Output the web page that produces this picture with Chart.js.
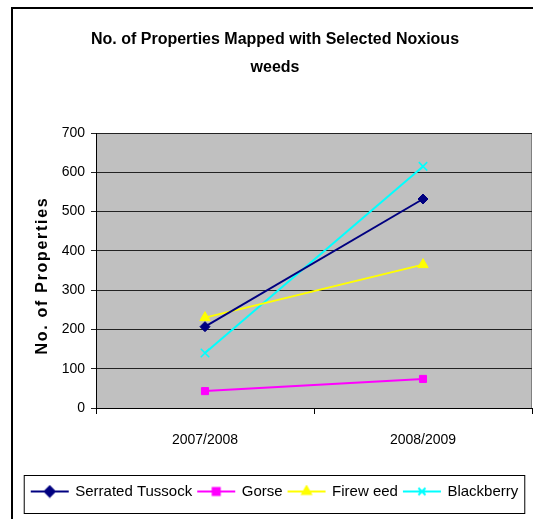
<!DOCTYPE html>
<html>
<head>
<meta charset="utf-8">
<title>No. of Properties Mapped with Selected Noxious weeds</title>
<script src="https://cdn.jsdelivr.net/npm/chart.js@4/dist/chart.umd.min.js"></script>
<style>
    html, body { margin: 0; padding: 0; background: #fff; }
    #wrap { width: 533px; height: 519px; }
</style>
</head>
<body>
<div id="wrap"><canvas id="weedsChart" width="533" height="519"></canvas></div>
<script>
// Data
const seasons = ['2007/2008', '2008/2009'];
const serratedTussock = [207, 532];
const gorse = [43, 74];
const fireweed = [230, 365];
const blackberry = [140, 615];
const yTicks = [0, 100, 200, 300, 400, 500, 600, 700];

const FONT = "'Liberation Sans', Arial, sans-serif";

// small line+marker images for the legend
function legendSymbol(color, style) {
    const c = document.createElement('canvas');
    c.width = 40;
    c.height = 14;
    const ctx = c.getContext('2d');
    ctx.strokeStyle = color;
    ctx.fillStyle = color;
    ctx.lineWidth = 2;
    ctx.beginPath();
    ctx.moveTo(1, 7);
    ctx.lineTo(39, 7);
    ctx.stroke();
    Chart.helpers.drawPoint(ctx, {
        pointStyle: style,
        radius: 5,
        rotation: 0,
        borderWidth: style === 'crossRot' ? 1.5 : 1
    }, 20, 7);
    if (style !== 'crossRot') ctx.fill();
    return c;
}

// grey plot background, outer frame, legend box and the spaced y title
const framePlugin = {
    id: 'frame',
    beforeDraw(chart) {
        const {ctx, chartArea} = chart;
        ctx.save();
        ctx.fillStyle = '#fff';
        ctx.fillRect(0, 0, chart.width, chart.height);
        ctx.fillStyle = '#c0c0c0';
        ctx.fillRect(chartArea.left, chartArea.top, chartArea.right - chartArea.left, chartArea.bottom - chartArea.top);
        ctx.strokeStyle = '#808080';
        ctx.lineWidth = 1;
        ctx.beginPath();
        ctx.moveTo(chartArea.left, chartArea.top + 0.5);
        ctx.lineTo(chartArea.right - 0.5, chartArea.top + 0.5);
        ctx.lineTo(chartArea.right - 0.5, chartArea.bottom);
        ctx.stroke();
        ctx.restore();
    },
    afterDraw(chart) {
        const ctx = chart.ctx;
        const area = chart.chartArea;
        ctx.save();
        // outer frame
        ctx.strokeStyle = '#000';
        ctx.lineWidth = 2;
        ctx.strokeRect(12, 8, 540, 530);
        // legend box
        const boxes = chart.legend.legendHitBoxes;
        if (boxes && boxes.length) {
            const first = boxes[0];
            const last = boxes[boxes.length - 1];
            const left = first.left - 8;
            const right = last.left + last.width + 6;
            const top = first.top - 9;
            const bottom = first.top + first.height + 14;
            ctx.lineWidth = 1;
            ctx.strokeRect(left + 0.5, top + 0.5, right - left, bottom - top);
        }
        // y axis title, letter spaced like the original
        ctx.translate(43, (area.top + area.bottom) / 2 + 5);
        ctx.rotate(-Math.PI / 2);
        ctx.font = 'bold 16px ' + FONT;
        ctx.letterSpacing = '1.7px';
        ctx.fillStyle = '#000';
        ctx.textAlign = 'center';
        ctx.textBaseline = 'middle';
        ctx.fillText('No. of Properties', 0, 0);
        ctx.restore();
    }
};

function makeDataset(label, data, color, style, radius) {
    return {
        label: label,
        data: data,
        borderColor: color,
        backgroundColor: color,
        borderWidth: 2,
        pointStyle: style,
        pointRadius: radius,
        pointHoverRadius: radius,
        pointBorderWidth: style === 'crossRot' ? 1.5 : 1,
        tension: 0
    };
}

const legendImages = [
    legendSymbol('#000080', 'rectRot'),
    legendSymbol('#ff00ff', 'rect'),
    legendSymbol('#ffff00', 'triangle'),
    legendSymbol('#00ffff', 'crossRot')
];

const ctx = document.getElementById('weedsChart');
new Chart(ctx, {
    type: 'line',
    data: {
        labels: seasons,
        datasets: [
            makeDataset('Serrated Tussock', serratedTussock, '#000080', 'rectRot', 5),
            makeDataset('Gorse', gorse, '#ff00ff', 'rect', 5),
            makeDataset('Firew eed', fireweed, '#ffff00', 'triangle', 6),
            makeDataset('Blackberry', blackberry, '#00ffff', 'crossRot', 6)
        ]
    },
    options: {
        responsive: false,
        animation: false,
        layout: {
            autoPadding: false,
            padding: {left: 17, right: 0, top: 10, bottom: 10}
        },
        plugins: {
            title: {
                display: true,
                text: ['No. of Properties Mapped with Selected Noxious', 'weeds'],
                color: '#000',
                font: {family: FONT, size: 16, weight: 'bold', lineHeight: 1.75},
                padding: {top: 16, bottom: 51}
            },
            legend: {
                position: 'bottom',
                labels: {
                    usePointStyle: true,
                    pointStyleWidth: 36,
                    padding: 6,
                    color: '#000',
                    font: {family: FONT, size: 15},
                    generateLabels(chart) {
                        const items = Chart.defaults.plugins.legend.labels.generateLabels(chart);
                        items.forEach((item, i) => { item.pointStyle = legendImages[i]; });
                        return items;
                    }
                }
            },
            tooltip: {enabled: false}
        },
        scales: {
            x: {
                offset: true,
                grid: {
                    offset: true,
                    drawOnChartArea: false,
                    drawTicks: true,
                    tickLength: 6,
                    color: '#000'
                },
                border: {color: '#000', width: 1},
                ticks: {
                    color: '#000',
                    padding: 18,
                    font: {family: FONT, size: 14}
                },
                afterFit(scale) {
                    scale.height = 70;
                    scale.paddingLeft = 0;
                    scale.paddingRight = 1;
                }
            },
            y: {
                min: 0,
                max: 700,
                afterBuildTicks(scale) {
                    scale.ticks = yTicks.map(v => ({value: v}));
                },
                grid: {
                    color: '#222',
                    lineWidth: 1,
                    tickLength: 5
                },
                border: {color: '#000', width: 1},
                ticks: {
                    color: '#000',
                    padding: 6,
                    font: {family: FONT, size: 14}
                },
                afterFit(scale) {
                    scale.width = 79;
                }
            }
        }
    },
    plugins: [framePlugin]
});
</script>
</body>
</html>
